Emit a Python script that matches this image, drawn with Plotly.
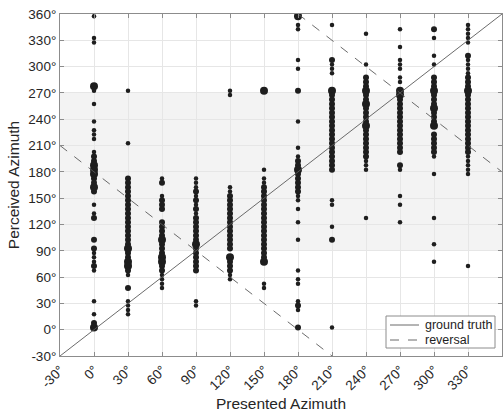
import plotly.graph_objects as go

presented = [0, 30, 60, 90, 120, 150, 180, 210, 240, 270, 300, 330]

col_000 = [(357.5,1),(332.5,1),(327.5,1),(277.5,3),(272.5,1),(257.5,1),(237.5,1),(227.5,1),(222.5,1),(217.5,1),
           (202.5,1),(197.5,2),(192.5,2),(187.5,3),(182.5,3),(177.5,3),(172.5,2),(167.5,2),(162.5,3),(157.5,2),
           (142.5,1),(132.5,1),(127.5,2),(102.5,2),(92.5,2),(87.5,1),(82.5,1),(77.5,1),(72.5,2),(67.5,1),
           (32.5,1),(17.5,1),(7.5,2),(2.5,3)]
col_030 = [(272.5,1),(212.5,1),(172.5,2),(167.5,2),(162.5,2),(157.5,2),(152.5,2),(147.5,2),(142.5,2),(137.5,2),
           (132.5,2),(127.5,2),(122.5,2),(117.5,2),(112.5,2),(107.5,2),(102.5,2),(97.5,2),(92.5,3),(87.5,2),
           (82.5,2),(77.5,3),(72.5,3),(67.5,2),(62.5,1),(47.5,2),(32.5,1),(27.5,1),(22.5,1),(17.5,1)]
col_060 = [(172.5,1),(167.5,2),(152.5,1),(147.5,2),(142.5,2),(137.5,2),(122.5,2),(117.5,2),(112.5,2),(107.5,2),
           (102.5,3),(97.5,2),(92.5,2),(87.5,2),(82.5,3),(77.5,3),(72.5,2),(67.5,2),(62.5,1),(57.5,1),(52.5,1),(47.5,1)]
col_090 = [(172.5,1),(167.5,1),(162.5,1),(157.5,2),(152.5,1),(147.5,2),(142.5,1),(137.5,2),(132.5,1),(127.5,2),
           (122.5,2),(117.5,2),(112.5,2),(107.5,2),(102.5,2),(97.5,3),(92.5,2),(87.5,2),(82.5,2),(77.5,2),
           (72.5,2),(67.5,2),(32.5,1),(27.5,1)]
col_120 = [(272.5,1),(267.5,1),(162.5,1),(157.5,1),(152.5,2),(147.5,2),(142.5,2),(137.5,2),(132.5,2),(127.5,2),
           (122.5,2),(117.5,2),(112.5,2),(107.5,2),(102.5,2),(97.5,2),(92.5,2),(82.5,3),(77.5,2),(72.5,2),
           (67.5,2),(62.5,1),(57.5,1)]
col_150 = [(272.5,3),(182.5,1),(172.5,1),(167.5,1),(162.5,2),(157.5,2),(152.5,2),(147.5,2),(142.5,2),(137.5,2),
           (132.5,2),(127.5,2),(122.5,2),(117.5,2),(112.5,2),(107.5,2),(102.5,2),(97.5,2),(92.5,2),(87.5,2),
           (82.5,2),(77.5,3),(52.5,1),(47.5,1)]
col_180 = [(357.5,3),(347.5,1),(342.5,1),(307.5,1),(297.5,1),(272.5,2),(237.5,1),(207.5,1),(197.5,1),(192.5,2),
           (187.5,2),(182.5,3),(177.5,2),(172.5,2),(167.5,2),(162.5,2),(157.5,2),(152.5,1),(147.5,1),(137.5,1),
           (122.5,1),(102.5,1),(67.5,1),(57.5,1),(52.5,1),(32.5,1),(27.5,2),(22.5,1),(2.5,2)]
col_210 = [(347.5,1),(307.5,2),(302.5,1),(297.5,1),(292.5,1),(272.5,3),(267.5,2),(262.5,2),(257.5,2),(252.5,2),
           (247.5,2),(242.5,2),(237.5,2),(232.5,2),(227.5,2),(222.5,2),(217.5,2),(212.5,2),(207.5,2),(202.5,2),
           (197.5,2),(192.5,2),(187.5,2),(182.5,2),(147.5,1),(142.5,1),(117.5,1),(102.5,2),(2.5,1)]
col_240 = [(337.5,1),(302.5,1),(287.5,2),(282.5,2),(277.5,2),(272.5,3),(267.5,2),(262.5,2),(257.5,3),(252.5,2),
           (247.5,2),(242.5,2),(237.5,2),(232.5,3),(227.5,2),(222.5,2),(217.5,2),(212.5,2),(207.5,2),(202.5,2),
           (197.5,2),(192.5,1),(187.5,1),(182.5,1),(127.5,1)]
col_270 = [(342.5,1),(322.5,1),(307.5,1),(302.5,1),(297.5,1),(287.5,1),(282.5,1),(272.5,3),(267.5,3),(262.5,2),
           (257.5,2),(252.5,2),(247.5,2),(242.5,2),(237.5,2),(232.5,2),(227.5,2),(222.5,2),(217.5,2),(212.5,2),
           (207.5,2),(202.5,2),(187.5,2),(182.5,1),(152.5,1),(142.5,1),(122.5,1)]
col_300 = [(342.5,2),(332.5,1),(312.5,1),(302.5,1),(287.5,2),(282.5,2),(277.5,2),(272.5,3),(267.5,2),(262.5,2),
           (257.5,2),(252.5,3),(247.5,2),(242.5,2),(237.5,2),(232.5,3),(222.5,2),(217.5,2),(212.5,2),(207.5,2),
           (202.5,2),(197.5,1),(177.5,1),(127.5,1),(97.5,1),(77.5,1)]
col_330 = [(347.5,1),(342.5,1),(337.5,1),(332.5,1),(327.5,1),(312.5,2),(307.5,1),(302.5,1),(297.5,1),(292.5,1),
           (287.5,2),(282.5,2),(277.5,2),(272.5,3),(267.5,2),(262.5,2),(257.5,2),(252.5,2),(247.5,2),(242.5,2),
           (237.5,2),(232.5,2),(227.5,2),(222.5,2),(217.5,2),(212.5,2),(207.5,2),(202.5,2),(197.5,1),(192.5,1),
           (187.5,1),(182.5,1),(177.5,1),(72.5,1)]

columns = [col_000, col_030, col_060, col_090, col_120, col_150,
           col_180, col_210, col_240, col_270, col_300, col_330]

tick_vals = list(range(-30, 361, 30))
tick_text = [f"{v}°" for v in tick_vals]
legend_labels = ["ground truth", "reversal"]

size_map = {1: 4.5, 2: 6.0, 3: 8.0}

xs, ys, ss = [], [], []
for px, col in zip(presented, columns):
    for y, n in col:
        xs.append(px)
        ys.append(y)
        ss.append(size_map[n])

fig = go.Figure()

fig.add_shape(type="rect", xref="x", yref="y", x0=-30, x1=360, y0=90, y1=270,
              fillcolor="#f3f3f3", line_width=0, layer="below")

fig.add_trace(go.Scatter(x=xs, y=ys, mode="markers",
                         marker=dict(size=ss, color="#1e1e1e", opacity=1, line_width=0),
                         showlegend=False, hoverinfo="skip"))

line_col = "#5a5a5a"
fig.add_trace(go.Scatter(x=[-30, 360], y=[-30, 360], mode="lines",
                         line=dict(color=line_col, width=0.9),
                         name=legend_labels[0], showlegend=False))
fig.add_trace(go.Scatter(x=[-30, 210, None, 180, 360], y=[210, -30, None, 360, 180], mode="lines",
                         line=dict(color=line_col, width=0.9, dash="dash"),
                         name=legend_labels[1], showlegend=False))

# manual legend box (paper coordinates derived from plot-area pixels)
def px_x(p):
    return (p - 60) / 442.0
def px_y(p):
    return (356 - p) / 342.0

fig.add_shape(type="rect", xref="paper", yref="paper",
              x0=px_x(386), x1=px_x(495), y0=px_y(348), y1=px_y(316),
              fillcolor="white", line=dict(color="#8c8c8c", width=1), layer="above")
fig.add_shape(type="line", xref="paper", yref="paper",
              x0=px_x(390), x1=px_x(419), y0=px_y(325), y1=px_y(325),
              line=dict(color=line_col, width=0.9), layer="above")
fig.add_shape(type="line", xref="paper", yref="paper",
              x0=px_x(390), x1=px_x(419), y0=px_y(340), y1=px_y(340),
              line=dict(color=line_col, width=0.9, dash="dash"), layer="above")
for lbl, py in zip(legend_labels, [325, 340]):
    fig.add_annotation(xref="paper", yref="paper", x=px_x(423), y=px_y(py),
                       text=lbl, showarrow=False, xanchor="left", yanchor="middle",
                       font=dict(size=12.5, color="#1e1e1e"))

axis_common = dict(range=[-30, 360], tickvals=tick_vals, ticktext=tick_text,
                   showgrid=True, gridcolor="#e6e6e6", gridwidth=1,
                   zeroline=False, showline=True, linecolor="#8c8c8c", linewidth=1,
                   mirror="ticks", ticks="inside", ticklen=4, tickcolor="#8c8c8c",
                   tickfont=dict(size=13.5, color="#262626"))

fig.update_xaxes(**axis_common, tickangle=-45,
                 title=dict(text="Presented Azimuth", font=dict(size=15.5, color="#262626"), standoff=6))
fig.update_yaxes(**axis_common,
                 title=dict(text="Perceived Azimuth", font=dict(size=15.5, color="#262626"), standoff=4))

fig.update_layout(
    width=503, height=415,
    margin=dict(l=60, r=1, t=14, b=59),
    paper_bgcolor="white", plot_bgcolor="white",
    font=dict(family="Liberation Sans, Arial, sans-serif", color="#262626"),
    showlegend=False,
)

fig.write_html("out.html")
